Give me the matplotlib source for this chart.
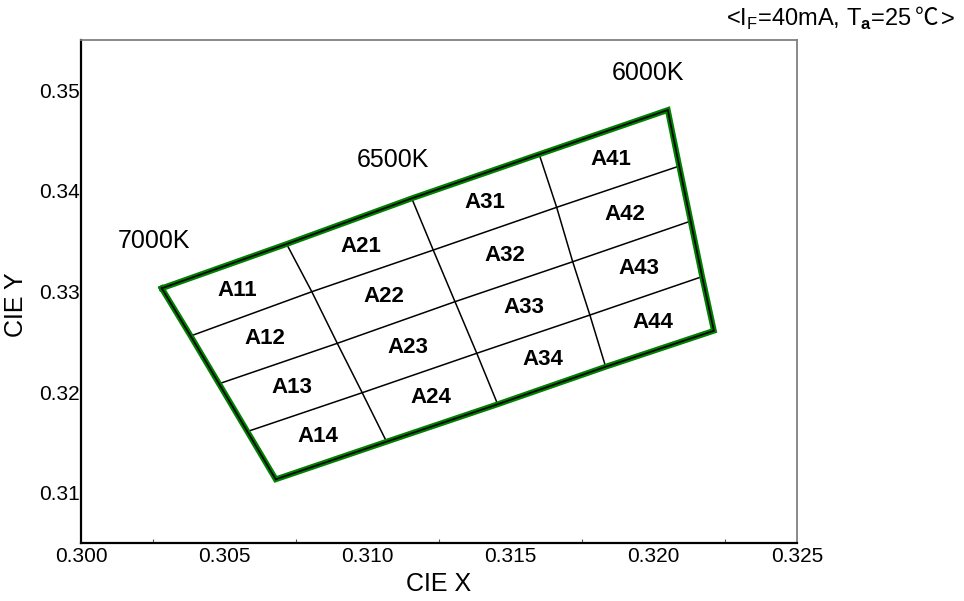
import matplotlib
matplotlib.use('Agg')
import matplotlib.pyplot as plt
import numpy as np

plt.rcParams['font.family'] = ['Liberation Sans', 'Noto Sans CJK JP', 'DejaVu Sans']
plt.rcParams['mathtext.fontset'] = 'custom'
plt.rcParams['mathtext.rm'] = 'Liberation Sans'
plt.rcParams['mathtext.bf'] = 'Liberation Sans:bold'

# grid nodes of the bin map, rows top -> bottom, columns left -> right
node_x = [
    [0.30282, 0.30718, 0.31155, 0.31600, 0.32049],
    [0.30383, 0.30806, 0.31230, 0.31661, 0.32089],
    [0.30482, 0.30895, 0.31306, 0.31717, 0.32129],
    [0.30581, 0.30982, 0.31382, 0.31777, 0.32169],
    [0.30680, 0.31067, 0.31455, 0.31832, 0.32210],
]
node_y = [
    [0.33032, 0.33472, 0.33926, 0.34364, 0.34804],
    [0.32558, 0.32998, 0.33412, 0.33837, 0.34247],
    [0.32083, 0.32485, 0.32899, 0.33296, 0.33700],
    [0.31608, 0.31994, 0.32386, 0.32766, 0.33148],
    [0.31133, 0.31507, 0.31879, 0.32252, 0.32610],
]
bin_names = [
    ['A11', 'A21', 'A31', 'A41'],
    ['A12', 'A22', 'A32', 'A42'],
    ['A13', 'A23', 'A33', 'A43'],
    ['A14', 'A24', 'A34', 'A44'],
]
cct_labels = ['7000K', '6500K', '6000K']
cct_x = [0.30254, 0.31090, 0.31980]
cct_y = [0.33507, 0.34307, 0.35172]

x_ticks = [0.300, 0.305, 0.310, 0.315, 0.320, 0.325]
y_ticks = [0.31, 0.32, 0.33, 0.34, 0.35]

nx = np.array(node_x)
ny = np.array(node_y)

fig = plt.figure(figsize=(9.64, 6.01), dpi=100)
ax = fig.add_axes([0.0840, 0.0965, 0.7427, 0.8369])

# inner grid lines
for r in range(1, 4):
    ax.plot(nx[r], ny[r], color='black', lw=1.1, zorder=2)
for c in range(1, 4):
    ax.plot(nx[:, c], ny[:, c], color='black', lw=1.1, zorder=2)

# outer boundary
bx = np.concatenate([nx[0], nx[1:, -1], nx[-1, ::-1][1:], nx[::-1, 0][1:]])
by = np.concatenate([ny[0], ny[1:, -1], ny[-1, ::-1][1:], ny[::-1, 0][1:]])
ax.plot(bx, by, color='#008000', lw=4.2, solid_joinstyle='miter', zorder=3)
ax.plot(bx, by, color='black', lw=1.2, solid_joinstyle='miter', zorder=4)

for r in range(4):
    for c in range(4):
        cx = (nx[r, c] + nx[r, c + 1] + nx[r + 1, c] + nx[r + 1, c + 1]) / 4
        cy = (ny[r, c] + ny[r, c + 1] + ny[r + 1, c] + ny[r + 1, c + 1]) / 4
        ax.text(cx, cy, bin_names[r][c], fontsize=16, fontweight='bold',
                ha='center', va='center', zorder=5)

for lab, x, y in zip(cct_labels, cct_x, cct_y):
    ax.text(x, y, lab, fontsize=18, ha='center', va='center')

ax.set_xlim(0.300, 0.325)
ax.set_ylim(0.305, 0.355)
ax.set_xticks(x_ticks)
ax.set_xticklabels([f'{v:.3f}' for v in x_ticks])
ax.set_yticks(y_ticks)
ax.set_yticklabels([f'{v:.2f}' for v in y_ticks])
ax.set_xticks(np.array(x_ticks[:-1]) + 0.0025, minor=True)
ax.tick_params(axis='both', which='major', length=0, labelsize=15, pad=3)
ax.tick_params(axis='y', which='major', pad=1)
ax.tick_params(axis='x', which='minor', direction='in', length=3, width=0.8, color='#555555')

ax.spines['left'].set_linewidth(1.6)
ax.spines['bottom'].set_linewidth(1.6)
ax.spines['top'].set_color('#808080')
ax.spines['right'].set_color('#808080')
ax.spines['top'].set_linewidth(1.3)
ax.spines['right'].set_linewidth(1.3)

ax.set_xlabel('CIE X', fontsize=18, labelpad=4)
ax.set_ylabel('CIE Y', fontsize=18)
ax.yaxis.set_label_coords(-0.074, 0.473)

# condition note, top right: main part with subscripts, then the Celsius sign
base_y = 0.9576
W = fig.bbox.width
t1 = fig.text(733 / W, base_y, r'<I$_\mathrm{F}$=40mA, T$_\mathbf{a}$=25',
              fontsize=17, ha='left', va='baseline')
fig.canvas.draw()
t2 = fig.text((t1.get_window_extent().x1 + 3) / W, base_y, '℃', fontsize=17,
              family=['Noto Sans CJK JP', 'Liberation Sans'], ha='left', va='baseline')
fig.canvas.draw()
t3 = fig.text((t2.get_window_extent().x1 + 3) / W, base_y, '>', fontsize=17,
              ha='left', va='baseline')
fig.canvas.draw()
shift = (955 - t3.get_window_extent().x1) / W
for t in (t1, t2, t3):
    px, py = t.get_position()
    t.set_position((px + shift, py))

fig.savefig('out.png', dpi=100)
